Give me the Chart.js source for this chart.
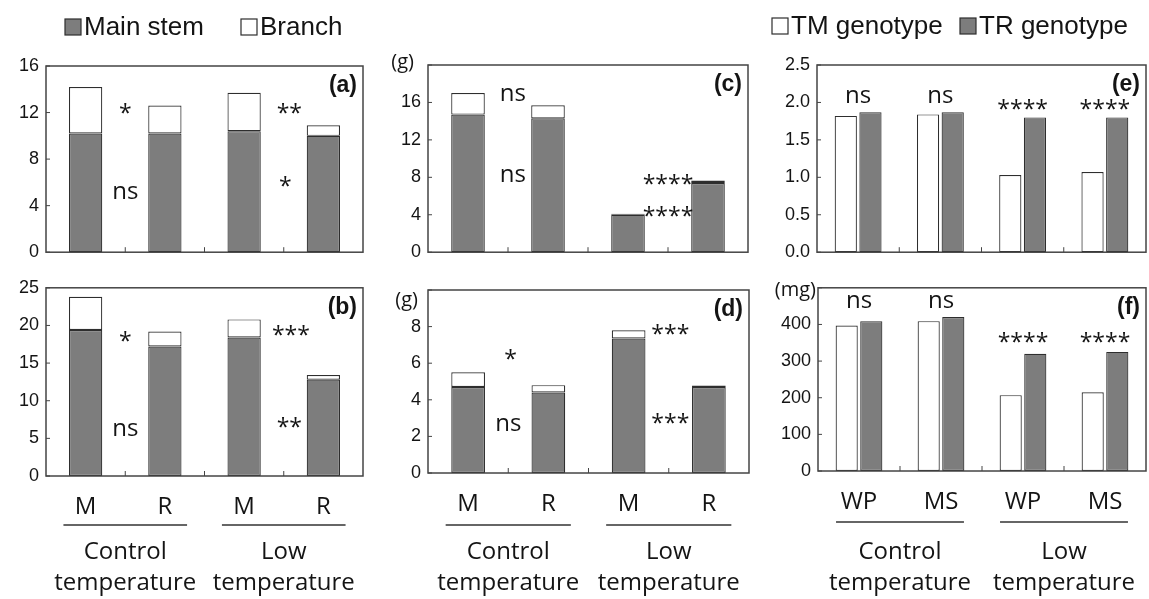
<!DOCTYPE html>
<html>
<head>
<meta charset="utf-8">
<script src="https://cdn.jsdelivr.net/npm/chart.js@4.4.1/dist/chart.umd.min.js"></script>
<style>
  body { margin: 0; background: #fff; width: 1149px; height: 599px; overflow: hidden; position: relative; }
  canvas { position: absolute; }
</style>
</head>
<body>
<canvas id="pa"></canvas>
<canvas id="pb"></canvas>
<canvas id="pc"></canvas>
<canvas id="pd"></canvas>
<canvas id="pe"></canvas>
<canvas id="pf"></canvas>
<script>
// categories
const organs = ["M", "R", "M", "R"];
const tissues = ["WP", "MS", "WP", "MS"];
const temps = [["Control", "temperature"], ["Low", "temperature"]];

// (a) and (b): main stem / branch
const aMain = [10.2, 10.2, 10.4, 10.0];
const aBranch = [4.0, 2.4, 3.3, 0.9];
const bMain = [19.4, 17.2, 18.4, 12.8];
const bBranch = [4.4, 2.0, 2.4, 0.6];
// (c) and (d): grams
const cMain = [14.7, 14.3, 4.0, 7.4];
const cBranch = [2.3, 1.4, 0.12, 0.25];
const dMain = [4.7, 4.4, 7.35, 4.7];
const dBranch = [0.8, 0.4, 0.45, 0.08];
// (e) and (f): TM vs TR genotype
const eTM = [1.82, 1.84, 1.03, 1.07];
const eTR = [1.87, 1.87, 1.80, 1.80];
const fTM = [397, 409, 207, 215];
const fTR = [409, 420, 320, 325];

// significance marks (x = category index, y = value)
const aMarks = [{t: "*", x: 0.5, y: 12.3}, {t: "ns", x: 0.5, y: 5.1}, {t: "**", x: 2.57, y: 12.3}, {t: "*", x: 2.52, y: 6.0}];
const bMarks = [{t: "*", x: 0.5, y: 18.4}, {t: "ns", x: 0.5, y: 6.1}, {t: "***", x: 2.59, y: 19.3}, {t: "**", x: 2.57, y: 7.1}];
const cMarks = [{t: "ns", x: 0.56, y: 16.8}, {t: "ns", x: 0.56, y: 8.15}, {t: "****", x: 2.5, y: 7.7}, {t: "****", x: 2.5, y: 4.3}];
const dMarks = [{t: "*", x: 0.53, y: 6.45}, {t: "ns", x: 0.5, y: 2.6}, {t: "***", x: 2.52, y: 7.8}, {t: "***", x: 2.52, y: 2.95}];
const eMarks = [{t: "ns", x: 0, y: 2.07}, {t: "ns", x: 1, y: 2.07}, {t: "****", x: 2, y: 1.96}, {t: "****", x: 3, y: 1.96}];
const fMarks = [{t: "ns", x: 0, y: 461}, {t: "ns", x: 1, y: 461}, {t: "****", x: 2, y: 363}, {t: "****", x: 3, y: 363}];

const GRAY = "#7d7d7d";
const EDGE = "#2e2e2e";
const TEXT = "#141414";
const HUMAN = "'Open Sans', 'Noto Sans', sans-serif";

Chart.defaults.font.family = "'Liberation Sans', Arial, sans-serif";
Chart.defaults.color = TEXT;

function decor(p) {
  return {
    id: "decor",
    afterDraw(chart) {
      const ctx = chart.ctx, a = chart.chartArea;
      const xs = chart.scales.x, ys = chart.scales.y;
      const ox = p.canvas.x, oy = p.canvas.y;
      const line = (x1, y1, x2, y2) => { ctx.beginPath(); ctx.moveTo(x1, y1); ctx.lineTo(x2, y2); ctx.stroke(); };
      ctx.save();
      ctx.strokeStyle = "#444";
      ctx.lineWidth = 1.5;
      ctx.strokeRect(a.left, a.top, a.right - a.left, a.bottom - a.top);
      ctx.lineWidth = 1;
      ys.ticks.forEach(t => {
        const y = ys.getPixelForValue(t.value);
        line(a.left, y, a.left + 4, y);
      });
      for (let i = 0; i < xs.ticks.length - 1; i++) {
        const x = (xs.getPixelForValue(i) + xs.getPixelForValue(i + 1)) / 2;
        line(x, a.bottom, x, a.bottom - 5);
      }
      // significance marks
      ctx.fillStyle = TEXT;
      ctx.textAlign = "center";
      ctx.textBaseline = "alphabetic";
      p.marks.forEach(m => {
        const x = xs.getPixelForValue(0) + m.x * (xs.getPixelForValue(1) - xs.getPixelForValue(0));
        const y = ys.getPixelForValue(m.y);
        if (m.t.includes("*")) {
          ctx.font = "23px " + HUMAN;
          ctx.fillText(m.t, x, y + 12);
        } else {
          ctx.font = "24px " + HUMAN;
          ctx.fillText(m.t, x, y + 6);
        }
      });
      // panel tag
      ctx.font = "bold 23px 'Liberation Sans', Arial, sans-serif";
      ctx.textAlign = "right";
      ctx.textBaseline = "middle";
      ctx.fillText(p.tag, a.right - 6, a.top + 20);
      // unit label
      if (p.unit) {
        ctx.font = "20px " + HUMAN;
        ctx.textAlign = "right";
        ctx.fillText(p.unit.text, p.unit.x - ox, p.unit.y - oy);
      }
      // legend
      if (p.legend) {
        ctx.font = "26px 'Liberation Sans', Arial, sans-serif";
        ctx.textAlign = "left";
        ctx.textBaseline = "middle";
        p.legend.forEach(it => {
          const bx = it.x - ox, by = it.y - oy;
          ctx.fillStyle = it.fill;
          ctx.fillRect(bx, by - 8, 16, 16);
          ctx.strokeStyle = EDGE;
          ctx.lineWidth = 1.2;
          ctx.strokeRect(bx, by - 8, 16, 16);
          ctx.fillStyle = TEXT;
          ctx.fillText(it.text, bx + 19, by + 1);
        });
      }
      // temperature groups
      if (p.groups) {
        const step = xs.getPixelForValue(1) - xs.getPixelForValue(0);
        ctx.strokeStyle = "#333";
        ctx.lineWidth = 1.3;
        ctx.fillStyle = TEXT;
        ctx.font = "24px " + HUMAN;
        ctx.textAlign = "center";
        ctx.textBaseline = "middle";
        p.groups.forEach((g, gi) => {
          const mid = (xs.getPixelForValue(gi * 2) + xs.getPixelForValue(gi * 2 + 1)) / 2;
          line(mid - step * 0.78, p.lineY - oy, mid + step * 0.78, p.lineY - oy);
          ctx.fillText(g[0], mid, p.textY[0] - oy);
          ctx.fillText(g[1], mid, p.textY[1] - oy);
        });
      }
      ctx.restore();
    }
  };
}

function stacked(main, branch) {
  return [
    {label: "Main stem", data: main, backgroundColor: GRAY, borderColor: EDGE, borderWidth: 1.2, borderSkipped: false, barPercentage: 0.42, categoryPercentage: 1},
    {label: "Branch", data: branch, backgroundColor: "#fff", borderColor: EDGE, borderWidth: 1.2, borderSkipped: false, barPercentage: 0.42, categoryPercentage: 1}
  ];
}

function grouped(tm, tr) {
  return [
    {label: "TM genotype", data: tm, backgroundColor: "#fff", borderColor: EDGE, borderWidth: 1.2, borderSkipped: false, barPercentage: 0.9, categoryPercentage: 0.6},
    {label: "TR genotype", data: tr, backgroundColor: GRAY, borderColor: EDGE, borderWidth: 1.2, borderSkipped: false, barPercentage: 0.9, categoryPercentage: 0.6}
  ];
}

function makePanel(id, p) {
  const cv = document.getElementById(id);
  cv.width = p.canvas.w;
  cv.height = p.canvas.h;
  cv.style.left = p.canvas.x + "px";
  cv.style.top = p.canvas.y + "px";
  const chart = new Chart(cv.getContext("2d"), {
    type: "bar",
    data: {labels: p.labels, datasets: p.datasets},
    options: {
      responsive: false,
      animation: false,
      layout: {padding: {left: 0, top: 20, right: 0, bottom: 0}},
      scales: {
        x: {
          stacked: p.stacked,
          display: !!p.groups,
          grid: {display: false, drawTicks: false},
          border: {display: false},
          ticks: {font: {size: 24, family: HUMAN}, padding: 17, color: TEXT}
        },
        y: {
          stacked: p.stacked,
          min: 0,
          max: p.max,
          grid: {display: false, drawTicks: false},
          border: {display: false},
          ticks: {
            stepSize: p.step,
            padding: 7,
            font: {size: 18},
            color: TEXT,
            callback: v => (p.unit && v === p.max) ? "" : (p.decimals ? v.toFixed(p.decimals) : v)
          }
        }
      },
      plugins: {legend: {display: false}, tooltip: {enabled: false}}
    },
    plugins: [decor(p)]
  });
  // nudge padding so the plot frame sits where the reference has it
  for (let k = 0; k < 2; k++) {
    const ca = chart.chartArea, pad = chart.options.layout.padding;
    pad.left += (p.area.l - p.canvas.x) - ca.left;
    pad.top += (p.area.t - p.canvas.y) - ca.top;
    pad.right += ca.right - (p.area.r - p.canvas.x);
    pad.bottom += ca.bottom - (p.area.b - p.canvas.y);
    chart.update("none");
  }
  return chart;
}

makePanel("pa", {
  canvas: {x: 0, y: 0, w: 380, h: 270}, area: {l: 46, t: 66, r: 363, b: 256},
  labels: organs, datasets: stacked(aMain, aBranch), stacked: true, max: 16, step: 4,
  marks: aMarks, tag: "(a)",
  legend: [{x: 65, y: 27, fill: GRAY, text: "Main stem"}, {x: 241, y: 27, fill: "#fff", text: "Branch"}]
});
makePanel("pb", {
  canvas: {x: 0, y: 270, w: 380, h: 329}, area: {l: 46, t: 287, r: 363, b: 476},
  labels: organs, datasets: stacked(bMain, bBranch), stacked: true, max: 25, step: 5,
  marks: bMarks, tag: "(b)", groups: temps, lineY: 525, textY: [552, 583]
});
makePanel("pc", {
  canvas: {x: 380, y: 0, w: 385, h: 270}, area: {l: 428, t: 65, r: 748, b: 258},
  labels: organs, datasets: stacked(cMain, cBranch), stacked: true, max: 20, step: 4,
  marks: cMarks, tag: "(c)", unit: {text: "(g)", x: 414, y: 62}
});
makePanel("pd", {
  canvas: {x: 380, y: 270, w: 385, h: 329}, area: {l: 428, t: 290, r: 749, b: 473},
  labels: organs, datasets: stacked(dMain, dBranch), stacked: true, max: 10, step: 2,
  marks: dMarks, tag: "(d)", unit: {text: "(g)", x: 418, y: 300}, groups: temps, lineY: 525, textY: [552, 583]
});
makePanel("pe", {
  canvas: {x: 765, y: 0, w: 384, h: 270}, area: {l: 817, t: 65, r: 1146, b: 258},
  labels: tissues, datasets: grouped(eTM, eTR), stacked: false, max: 2.5, step: 0.5, decimals: 1,
  marks: eMarks, tag: "(e)",
  legend: [{x: 772, y: 26, fill: "#fff", text: "TM genotype"}, {x: 960, y: 26, fill: GRAY, text: "TR genotype"}]
});
makePanel("pf", {
  canvas: {x: 765, y: 270, w: 384, h: 329}, area: {l: 818, t: 284, r: 1146, b: 471},
  labels: tissues, datasets: grouped(fTM, fTR), stacked: false, max: 500, step: 100,
  marks: fMarks, tag: "(f)", unit: {text: "(mg)", x: 816, y: 290}, groups: temps, lineY: 522, textY: [552, 583]
});
</script>
</body>
</html>
